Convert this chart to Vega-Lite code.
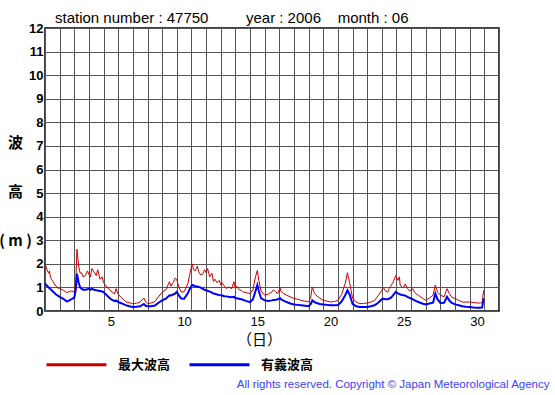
{
  "$schema": "https://vega.github.io/schema/vega-lite/v6.json",
  "width": 454,
  "height": 283,
  "autosize": {"type": "none"},
  "padding": {"left": 45, "top": 28, "right": 56, "bottom": 84},
  "background": "white",
  "config": {"view": {"stroke": "black", "strokeWidth": 1.5}, "font": "Liberation Sans"},
  "title": {"text": "station number : 47750\u00a0\u00a0\u00a0\u00a0\u00a0\u00a0\u00a0\u00a0\u00a0year : 2006\u00a0\u00a0\u00a0\u00a0month : 06", "anchor": "start", "frame": "group", "dx": 10, "dy": 22, "offset": 6, "fontSize": 15, "fontWeight": "normal", "font": "Liberation Sans", "color": "black", "baseline": "alphabetic"},
  "data": {"values": [
    {"t": 0, "max": 2.0, "sig": 1.17}, {"t": 0.06, "max": 1.9, "sig": 1.12}, {"t": 0.125, "max": 1.75, "sig": 1.08}, {"t": 0.25, "max": 1.6, "sig": 1.0},
    {"t": 0.3, "max": 1.7, "sig": 0.97}, {"t": 0.375, "max": 1.45, "sig": 0.92}, {"t": 0.44, "max": 1.35, "sig": 0.9}, {"t": 0.5, "max": 1.3, "sig": 0.85}, {"t": 0.625, "max": 1.15, "sig": 0.78},
    {"t": 0.75, "max": 1.05, "sig": 0.7}, {"t": 0.875, "max": 0.98, "sig": 0.65}, {"t": 1.0, "max": 0.95, "sig": 0.6},
    {"t": 1.25, "max": 0.88, "sig": 0.52}, {"t": 1.5, "max": 0.78, "sig": 0.4}, {"t": 1.75, "max": 0.85, "sig": 0.48},
    {"t": 2.0, "max": 0.8, "sig": 0.57}, {"t": 2.1, "max": 1.2, "sig": 0.9}, {"t": 2.18, "max": 2.62, "sig": 1.58},
    {"t": 2.3, "max": 1.9, "sig": 1.2}, {"t": 2.4, "max": 1.6, "sig": 1.0}, {"t": 2.5, "max": 1.62, "sig": 0.95},
    {"t": 2.6, "max": 1.45, "sig": 0.9}, {"t": 2.75, "max": 1.5, "sig": 0.9}, {"t": 2.9, "max": 1.7, "sig": 0.92},
    {"t": 3.0, "max": 1.55, "sig": 0.95}, {"t": 3.1, "max": 1.45, "sig": 0.9}, {"t": 3.2, "max": 1.8, "sig": 0.95},
    {"t": 3.35, "max": 1.65, "sig": 0.9}, {"t": 3.5, "max": 1.5, "sig": 0.88}, {"t": 3.6, "max": 1.75, "sig": 0.87},
    {"t": 3.75, "max": 1.35, "sig": 0.85}, {"t": 3.9, "max": 1.45, "sig": 0.83}, {"t": 4.0, "max": 1.2, "sig": 0.8},
    {"t": 4.25, "max": 1.0, "sig": 0.65}, {"t": 4.5, "max": 0.85, "sig": 0.5}, {"t": 4.75, "max": 0.72, "sig": 0.42},
    {"t": 4.85, "max": 0.95, "sig": 0.45}, {"t": 5.0, "max": 0.7, "sig": 0.38}, {"t": 5.25, "max": 0.55, "sig": 0.32},
    {"t": 5.5, "max": 0.4, "sig": 0.25}, {"t": 5.75, "max": 0.35, "sig": 0.2}, {"t": 6.0, "max": 0.31, "sig": 0.17},
    {"t": 6.25, "max": 0.33, "sig": 0.18}, {"t": 6.5, "max": 0.38, "sig": 0.2}, {"t": 6.75, "max": 0.55, "sig": 0.3},
    {"t": 6.875, "max": 0.38, "sig": 0.22}, {"t": 7.0, "max": 0.31, "sig": 0.2}, {"t": 7.25, "max": 0.34, "sig": 0.2},
    {"t": 7.5, "max": 0.4, "sig": 0.23}, {"t": 7.75, "max": 0.6, "sig": 0.35}, {"t": 8.0, "max": 0.8, "sig": 0.45},
    {"t": 8.25, "max": 0.9, "sig": 0.52}, {"t": 8.5, "max": 1.24, "sig": 0.67}, {"t": 8.6, "max": 1.05, "sig": 0.66},
    {"t": 8.75, "max": 1.2, "sig": 0.7}, {"t": 8.9, "max": 1.4, "sig": 0.75},
    {"t": 9.0, "max": 1.32, "sig": 0.81}, {"t": 9.15, "max": 1.0, "sig": 0.65}, {"t": 9.3, "max": 0.8, "sig": 0.53},
    {"t": 9.5, "max": 0.82, "sig": 0.52}, {"t": 9.75, "max": 1.15, "sig": 0.75}, {"t": 9.9, "max": 1.6, "sig": 0.95},
    {"t": 10.05, "max": 2.0, "sig": 1.1}, {"t": 10.15, "max": 1.75, "sig": 1.08}, {"t": 10.25, "max": 1.7, "sig": 1.05},
    {"t": 10.4, "max": 1.9, "sig": 1.04}, {"t": 10.5, "max": 1.66, "sig": 1.02}, {"t": 10.6, "max": 1.55, "sig": 1.0},
    {"t": 10.75, "max": 1.55, "sig": 0.95}, {"t": 10.9, "max": 1.75, "sig": 0.9}, {"t": 11.0, "max": 1.62, "sig": 0.88},
    {"t": 11.1, "max": 1.8, "sig": 0.86}, {"t": 11.25, "max": 1.45, "sig": 0.82}, {"t": 11.4, "max": 1.6, "sig": 0.78},
    {"t": 11.5, "max": 1.25, "sig": 0.74}, {"t": 11.6, "max": 1.35, "sig": 0.73}, {"t": 11.75, "max": 1.2, "sig": 0.7},
    {"t": 11.9, "max": 1.3, "sig": 0.68}, {"t": 12.0, "max": 1.1, "sig": 0.67}, {"t": 12.1, "max": 1.2, "sig": 0.66},
    {"t": 12.25, "max": 1.05, "sig": 0.63}, {"t": 12.4, "max": 0.95, "sig": 0.62}, {"t": 12.5, "max": 1.02, "sig": 0.6},
    {"t": 12.75, "max": 0.95, "sig": 0.58}, {"t": 12.9, "max": 1.24, "sig": 0.6}, {"t": 13.0, "max": 0.95, "sig": 0.55},
    {"t": 13.1, "max": 1.05, "sig": 0.54}, {"t": 13.25, "max": 0.9, "sig": 0.52}, {"t": 13.4, "max": 0.88, "sig": 0.5},
    {"t": 13.5, "max": 0.81, "sig": 0.48}, {"t": 13.75, "max": 0.78, "sig": 0.42},
    {"t": 14.0, "max": 0.74, "sig": 0.38}, {"t": 14.2, "max": 0.9, "sig": 0.5}, {"t": 14.35, "max": 1.4, "sig": 0.8},
    {"t": 14.5, "max": 1.72, "sig": 1.1}, {"t": 14.6, "max": 1.3, "sig": 0.85}, {"t": 14.75, "max": 0.85, "sig": 0.55},
    {"t": 15.0, "max": 0.67, "sig": 0.45}, {"t": 15.25, "max": 0.72, "sig": 0.42}, {"t": 15.5, "max": 0.81, "sig": 0.45},
    {"t": 15.6, "max": 0.9, "sig": 0.47}, {"t": 15.75, "max": 0.8, "sig": 0.48}, {"t": 15.9, "max": 0.75, "sig": 0.5},
    {"t": 16.0, "max": 0.9, "sig": 0.53}, {"t": 16.05, "max": 1.0, "sig": 0.55}, {"t": 16.1, "max": 0.85, "sig": 0.5},
    {"t": 16.25, "max": 0.75, "sig": 0.45}, {"t": 16.5, "max": 0.67, "sig": 0.38}, {"t": 16.75, "max": 0.6, "sig": 0.32},
    {"t": 17.0, "max": 0.53, "sig": 0.28}, {"t": 17.25, "max": 0.5, "sig": 0.26}, {"t": 17.5, "max": 0.45, "sig": 0.24},
    {"t": 17.75, "max": 0.42, "sig": 0.22}, {"t": 18.0, "max": 0.38, "sig": 0.2}, {"t": 18.15, "max": 0.6, "sig": 0.3},
    {"t": 18.25, "max": 1.02, "sig": 0.45}, {"t": 18.4, "max": 0.75, "sig": 0.38}, {"t": 18.5, "max": 0.67, "sig": 0.35},
    {"t": 18.75, "max": 0.55, "sig": 0.3}, {"t": 19.0, "max": 0.45, "sig": 0.28}, {"t": 19.25, "max": 0.42, "sig": 0.26},
    {"t": 19.5, "max": 0.38, "sig": 0.24}, {"t": 19.75, "max": 0.4, "sig": 0.24}, {"t": 20.0, "max": 0.45, "sig": 0.25},
    {"t": 20.25, "max": 0.7, "sig": 0.4}, {"t": 20.5, "max": 1.17, "sig": 0.67}, {"t": 20.65, "max": 1.62, "sig": 0.88},
    {"t": 20.8, "max": 1.2, "sig": 0.7}, {"t": 21.0, "max": 0.55, "sig": 0.3}, {"t": 21.25, "max": 0.38, "sig": 0.2},
    {"t": 21.5, "max": 0.31, "sig": 0.17}, {"t": 21.75, "max": 0.32, "sig": 0.17}, {"t": 22.0, "max": 0.34, "sig": 0.17},
    {"t": 22.25, "max": 0.38, "sig": 0.2}, {"t": 22.5, "max": 0.45, "sig": 0.24}, {"t": 22.75, "max": 0.65, "sig": 0.35},
    {"t": 23.0, "max": 0.88, "sig": 0.5}, {"t": 23.1, "max": 1.0, "sig": 0.52}, {"t": 23.25, "max": 0.85, "sig": 0.5},
    {"t": 23.4, "max": 0.8, "sig": 0.5}, {"t": 23.5, "max": 0.95, "sig": 0.53}, {"t": 23.6, "max": 1.05, "sig": 0.55},
    {"t": 23.75, "max": 1.2, "sig": 0.65}, {"t": 23.95, "max": 1.5, "sig": 0.81}, {"t": 24.1, "max": 1.3, "sig": 0.75},
    {"t": 24.2, "max": 1.45, "sig": 0.72}, {"t": 24.25, "max": 1.1, "sig": 0.7}, {"t": 24.4, "max": 1.0, "sig": 0.68},
    {"t": 24.5, "max": 1.02, "sig": 0.67}, {"t": 24.6, "max": 1.15, "sig": 0.65}, {"t": 24.75, "max": 0.95, "sig": 0.6},
    {"t": 24.9, "max": 0.85, "sig": 0.56}, {"t": 25.0, "max": 0.88, "sig": 0.53}, {"t": 25.1, "max": 0.95, "sig": 0.5},
    {"t": 25.25, "max": 0.78, "sig": 0.45}, {"t": 25.4, "max": 0.7, "sig": 0.4}, {"t": 25.5, "max": 0.67, "sig": 0.38},
    {"t": 25.75, "max": 0.55, "sig": 0.32}, {"t": 26.0, "max": 0.45, "sig": 0.28}, {"t": 26.25, "max": 0.55, "sig": 0.32},
    {"t": 26.5, "max": 0.67, "sig": 0.35}, {"t": 26.65, "max": 1.1, "sig": 0.74}, {"t": 26.8, "max": 0.8, "sig": 0.5},
    {"t": 27.0, "max": 0.67, "sig": 0.34}, {"t": 27.25, "max": 0.6, "sig": 0.35}, {"t": 27.45, "max": 0.95, "sig": 0.6},
    {"t": 27.6, "max": 0.75, "sig": 0.45}, {"t": 27.75, "max": 0.6, "sig": 0.35}, {"t": 28.0, "max": 0.53, "sig": 0.28},
    {"t": 28.25, "max": 0.45, "sig": 0.24}, {"t": 28.5, "max": 0.38, "sig": 0.2}, {"t": 28.75, "max": 0.38, "sig": 0.18},
    {"t": 29.0, "max": 0.38, "sig": 0.17}, {"t": 29.25, "max": 0.36, "sig": 0.15}, {"t": 29.5, "max": 0.34, "sig": 0.14},
    {"t": 29.75, "max": 0.34, "sig": 0.14}, {"t": 29.85, "max": 0.36, "sig": 0.15}, {"t": 29.95, "max": 0.88, "sig": 0.53}
  ]},
  "transform": [{"fold": ["max", "sig"], "as": ["series", "h"]}],
  "layer": [
    {
      "transform": [{"filter": "datum.series == 'max'"}],
      "mark": {"type": "line", "strokeWidth": 1},
      "encoding": {
        "x": {"field": "t", "type": "quantitative", "scale": {"domain": [0, 31], "nice": false, "zero": false},
          "axis": {"orient": "bottom", "values": [0,1,2,3,4,5,6,7,8,9,10,11,12,13,14,15,16,17,18,19,20,21,22,23,24,25,26,27,28,29,30,31],
            "grid": true, "gridColor": "#555555", "gridWidth": 1, "gridOpacity": 1, "labels": false, "ticks": false, "domain": false,
            "title": "All rights reserved. Copyright \u00a9 Japan Meteorological Agency", "titleColor": "#4040ff", "titleFontSize": 11.5,
            "titleFontWeight": "normal", "titleFont": "Liberation Sans", "titleX": 504, "titleY": 76, "titleAlign": "right", "titleBaseline": "alphabetic", "titleAnchor": null}},
        "y": {"field": "h", "type": "quantitative", "scale": {"domain": [0, 12], "nice": false},
          "axis": {"values": [0,1,2,3,4,5,6,7,8,9,10,11,12], "grid": true, "gridColor": "#555555", "gridOpacity": 1, "ticks": false, "domain": false,
            "labelFontSize": 13, "labelFontWeight": "bold", "labelPadding": 2, "labelColor": "black", "labelOverlap": false, "labelBound": false, "labelFlush": false,
            "title": ["波", "高", "( m )"], "titleAngle": 0, "titleX": -30, "titleY": 114, "titleAlign": "center", "titleBaseline": "middle",
            "titleLineHeight": 49, "titleFontSize": 15, "titleFontWeight": "bold", "titleFont": "Noto Sans CJK JP", "titleColor": "black"}},
        "color": {"field": "series", "type": "nominal", "scale": {"domain": ["max", "sig"], "range": ["#cc0000", "#0000ff"]},
          "legend": {"orient": "none", "legendX": 0, "legendY": 305, "direction": "horizontal", "title": null, "padding": 0,
            "symbolType": "stroke", "symbolSize": 3600, "symbolStrokeWidth": 3,
            "labelExpr": "datum.label == 'max' ? '最大波高' : '有義波高'", "labelFont": "Noto Sans CJK JP", "labelFontSize": 13,
            "labelFontWeight": "bold", "labelColor": "black", "labelOffset": 10, "columnPadding": 12}}
      }
    },
    {
      "transform": [{"filter": "datum.series == 'sig'"}],
      "mark": {"type": "line", "strokeWidth": 2},
      "encoding": {
        "x": {"field": "t", "type": "quantitative",
          "axis": {"orient": "bottom", "values": [4.5, 9.5, 14.5, 19.5, 24.5, 29.5], "labelExpr": "datum.value + 0.5",
            "grid": false, "ticks": false, "domain": false, "labelFontSize": 13, "labelPadding": 4, "labelColor": "black", "labelFont": "Liberation Sans",
            "title": "（日）", "titleFont": "Noto Sans CJK JP", "titleFontSize": 15, "titleFontWeight": "normal", "titleColor": "black",
            "titleX": 214, "titleY": 33, "titleAlign": "center", "titleBaseline": "alphabetic", "titleAnchor": null}},
        "y": {"field": "h", "type": "quantitative",
          "axis": {"values": [0,1,2,3,4,5,6,7,8,9,10,11,12], "grid": true, "gridColor": "#555555", "gridOpacity": 1, "ticks": false, "domain": false,
            "labelFontSize": 13, "labelFontWeight": "bold", "labelPadding": 2, "labelColor": "black", "labelOverlap": false, "labelBound": false, "labelFlush": false,
            "title": ["波", "高", "( m )"], "titleAngle": 0, "titleX": -30, "titleY": 114, "titleAlign": "center", "titleBaseline": "middle",
            "titleLineHeight": 49, "titleFontSize": 15, "titleFontWeight": "bold", "titleFont": "Noto Sans CJK JP", "titleColor": "black"}},
        "color": {"field": "series", "type": "nominal"}
      }
    }
  ],
  "resolve": {"axis": {"x": "independent"}}
}
